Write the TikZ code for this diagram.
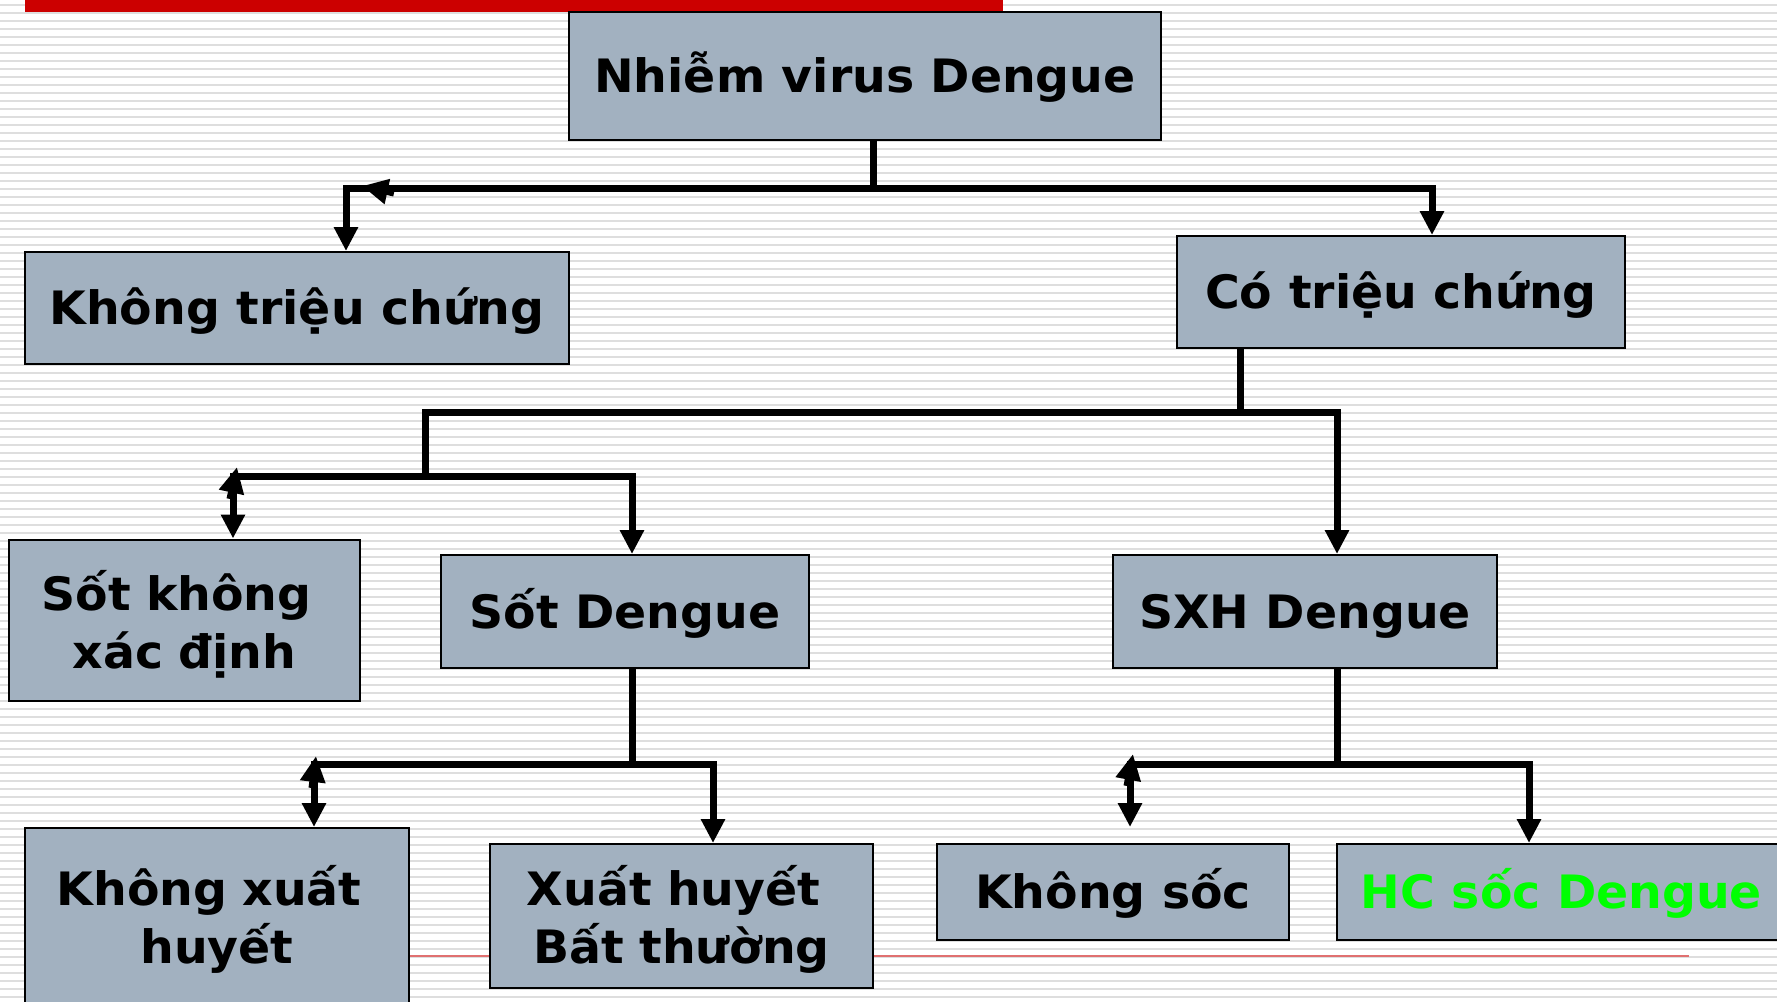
\documentclass[tikz,border=0pt]{standalone}
\usepackage{fontspec}
\setmainfont{DejaVu Sans}[FakeStretch=1.03]
\usetikzlibrary{arrows.meta,calc}
\definecolor{boxfill}{RGB}{162,177,192}
\definecolor{stripe}{RGB}{222,222,222}
\definecolor{topred}{RGB}{204,0,0}
\definecolor{thinred}{RGB}{224,112,112}
\definecolor{hcgreen}{RGB}{0,255,0}
\begin{document}
\begin{tikzpicture}[x=1pt,y=-1pt,
  box/.style={draw=black,line width=2pt,fill=boxfill,inner sep=0pt,
    font=\fontsize{46}{58}\selectfont\bfseries,text height=33.5pt,text depth=0pt},
  twoline/.style={align=center,text depth=58pt},
  conn/.style={line width=7pt,line join=miter,line cap=butt,
    >={Triangle[length=24pt,width=23pt]}},
  backtip/.style={line width=7pt,line cap=butt,
    >={Triangle[length=26pt,width=24pt]}},
  stripes/.style={fill=stripe}
]
\useasboundingbox (0,0) rectangle (1777,1001);
\clip (0,0) rectangle (1777,1001);
\fill[white] (0,0) rectangle (1777,1001);
% background stripes
\foreach \k in {0,...,124}{
  \fill[stripes] (0,{3.7+8*\k}) rectangle (1777,{5.7+8*\k});
}
% top red bar
\fill[topred] (25,0) rectangle (1003,12);
% thin red rule
\coordinate (rL) at (409,956);
\coordinate (rR) at (1689,956);
\draw[thinred,line width=2pt] (rL) -- (rR);

% boxes
\node[box,minimum width=592pt,minimum height=128pt] (top) at (865,76) {Nhiễm virus Dengue};
\node[box,minimum width=544pt,minimum height=112pt] (KTC) at (297,308) {Không triệu chứng};
\node[box,minimum width=448pt,minimum height=112pt] (CTC) at (1401,292) {Có triệu chứng};
\node[box,twoline,text width=330pt,text height=39.5pt,minimum width=351pt,minimum height=161pt] (SKXD) at (184.5,620) {Sốt không\kern16pt\\xác định};
\node[box,minimum width=368pt,minimum height=113pt] (SD) at (625,611.5) {Sốt Dengue};
\node[box,minimum width=384pt,minimum height=113pt] (SXH) at (1305,611.5) {SXH Dengue};
\node[box,twoline,text width=370pt,minimum width=384pt,minimum height=180pt] (KXH) at (217,918) {Không xuất\kern16pt\\huyết};
\node[box,twoline,text width=370pt,text height=37.5pt,minimum width=383pt,minimum height=144pt] (XHBT) at (681.5,916) {Xuất huyết\kern16pt\\Bất thường};
\node[box,minimum width=352pt,minimum height=96pt] (KS) at (1113,892) {Không sốc};
\node[box,text=hcgreen,minimum width=449pt,minimum height=96pt] (HC) at (1561.5,892) {HC sốc Dengue};

% level 1
\coordinate (b1) at (873,188);
\coordinate (d1L) at (346,188);
\coordinate (d1R) at (1432,188);
\coordinate (k1) at (362,186);
\draw[conn,->] (b1 |- top.south) -- (b1) -- (d1L) -- (d1L |- KTC.north);
\draw[conn,->] (b1) -- (d1R) -- (d1R |- CTC.north);
\draw[backtip,->] ($(k1)+(32,7)$) -- (k1);

% level 2
\coordinate (b2) at (1240.5,412);
\coordinate (d2L) at (425,412);
\coordinate (d2R) at (1337,412);
\coordinate (b3) at (425,476);
\draw[conn,->] (b2 |- CTC.south) -- (b2) -- (d2R) -- (d2R |- SXH.north);
\draw[conn] (b2) -- (d2L) -- (b3);

% level 3
\coordinate (d3L) at (233,476);
\coordinate (d3R) at (632,476);
\coordinate (k3) at (237,467);
\draw[conn,->] (b3) -- (d3R) -- (d3R |- SD.north);
\draw[conn,->] (b3) -- (d3L) -- (d3L |- SKXD.north);
\draw[backtip,->] ($(k3)+(-7,32)$) -- (k3);

% level 4
\coordinate (b4) at (632,764);
\coordinate (d4L) at (314,764);
\coordinate (d4R) at (713,764);
\coordinate (k4) at (316,756);
\draw[conn,->] (b4 |- SD.south) -- (b4) -- (d4R) -- (d4R |- XHBT.north);
\draw[conn,->] (b4) -- (d4L) -- (d4L |- KXH.north);
\draw[backtip,->] ($(k4)+(-4,32)$) -- (k4);

% level 5
\coordinate (b5) at (1337,764);
\coordinate (d5L) at (1130,764);
\coordinate (d5R) at (1529,764);
\coordinate (e5) at (1130,827);
\coordinate (k5) at (1133,754);
\draw[conn,->] (b5 |- SXH.south) -- (b5) -- (d5R) -- (d5R |- HC.north);
\draw[conn,->] (b5) -- (d5L) -- (e5);
\draw[backtip,->] ($(k5)+(-6,32)$) -- (k5);
\end{tikzpicture}
\end{document}
